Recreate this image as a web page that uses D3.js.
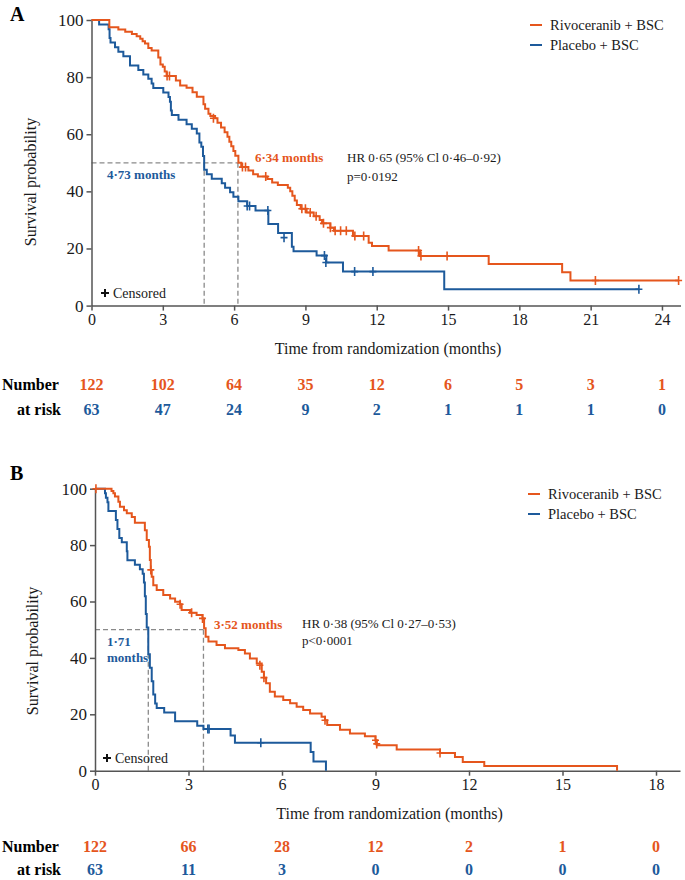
<!DOCTYPE html>
<html>
<head>
<meta charset="utf-8">
<script src="https://cdn.jsdelivr.net/npm/d3@7"></script>
<style>
  body { margin: 0; background: #fff; }
  svg { display: block; }
  text { font-family: "Liberation Serif", "Times New Roman", serif; }
</style>
</head>
<body>
<div id="chart"></div>
<script>
// ---- data ----
// steps: [month, survival % after the drop]
const rivoA = [[0,100],[0.75,97.5],[1.13,96.7],[1.42,95.9],[1.7,95.1],[1.9,94.3],[2.05,93.4],[2.15,92.6],[2.25,91.8],
  [2.39,90.2],[2.53,89.3],[2.81,86.9],[2.9,84.4],[3.0,83.6],[3.08,82],[3.16,80.4],[3.55,78.8],[3.73,77.1],[4.0,76.3],
  [4.25,74.7],[4.43,73.1],[4.71,70.5],[4.78,68.9],[4.92,67.2],[5.0,66.4],[5.2,65.6],[5.3,64],[5.45,62.4],[5.6,60.7],
  [5.72,59.1],[5.8,57.4],[5.88,55.8],[5.97,54.1],[6.05,52.5],[6.18,50],[6.3,48.5],[6.6,47.3],[6.8,46],[7.0,45.2],
  [7.4,44.3],[7.6,43.1],[7.84,42.2],[8.26,41.3],[8.36,40],[8.45,38.5],[8.55,36.8],[8.64,35.2],[8.8,33.9],[9.05,32.6],
  [9.35,31.3],[9.6,30],[9.7,28.8],[10.05,27.3],[10.2,26.2],[11.0,24.4],[11.66,22],[11.8,20.9],[12.5,19.3],[13.82,17.4],
  [16.71,14.6],[19.8,11.7],[20.15,8.8],[24.7,8.8]];
const rivoACensored = [[3.18,80.4],[3.28,80.4],[5.13,65.6],[6.35,48.5],[6.48,48.5],[7.33,45.2],[8.85,33.9],[9.0,33.9],
  [9.2,32.6],[9.45,31.3],[9.76,28.8],[10.05,27.3],[10.25,26.2],[10.48,26.2],[10.72,26.2],[11.08,24.4],[11.45,24.4],
  [13.76,19.3],[13.86,17.4],[14.96,17.4],[21.2,8.8],[24.7,8.8]];

const placeboA = [[0,100],[0.32,98.4],[0.72,96.8],[0.76,93.7],[0.8,92.1],[0.99,90.5],[1.13,88.9],[1.34,87.3],[1.62,84.1],
  [1.97,82.5],[2.18,80.9],[2.39,79.4],[2.53,77.8],[2.6,76.2],[3.02,74.6],[3.24,73],[3.3,71.4],[3.34,68.3],[3.38,66.7],
  [3.66,65.1],[4.0,63.5],[4.22,61.9],[4.43,60.3],[4.54,57.1],[4.62,55.6],[4.69,52.4],[4.74,47.6],[4.85,46],[5.06,44.4],
  [5.48,42.8],[5.62,41.3],[5.83,39.7],[5.97,38.1],[6.18,36.5],[6.55,34.9],[6.9,33.3],[7.44,28.6],[7.85,25.4],
  [8.43,20.6],[8.5,19],[9.47,17.5],[9.88,15.1],[10.58,11.9],[14.84,5.7],[23.03,5.7]];
const placeboACensored = [[6.55,34.9],[6.65,34.9],[7.42,33.3],[8.1,23.8],[9.8,17.5],[9.86,15.1],[11.07,11.9],
  [11.84,11.9],[23.03,5.7]];

const rivoB = [[0,100],[0.53,99.2],[0.59,98.4],[0.64,97.2],[0.75,95.4],[0.8,93.6],[0.93,92.4],[1.02,91.3],[1.18,90],
  [1.28,87.9],[1.6,85.3],[1.66,81.8],[1.73,79.4],[1.76,74.7],[1.79,71.2],[1.82,68.8],[1.87,65.8],[1.98,64.1],
  [2.19,62.3],[2.41,61.1],[2.57,59.9],[2.73,59],[2.78,57],[3.05,56],[3.26,55.2],[3.45,54],[3.5,50.5],[3.55,47.5],
  [3.64,45.8],[3.9,44.6],[4.17,43.4],[4.6,42.8],[4.81,41.6],[4.97,39.8],[5.19,38],[5.35,35.1],[5.42,33],[5.49,31],
  [5.61,28],[5.77,26.3],[6.04,25.1],[6.26,23.9],[6.47,22.7],[6.68,21.5],[6.9,20.3],[7.27,19.1],[7.38,17.9],
  [7.45,16.2],[7.86,14.5],[8.18,13.2],[8.66,12.2],[9.0,10.8],[9.04,9],[9.68,7.5],[11.07,6.3],[11.55,4.9],
  [11.8,3.1],[12.49,1.7],[16.75,0]];
const rivoBCensored = [[0.03,100],[1.79,71.2],[2.73,59],[3.1,56],[3.45,54],[5.29,37.4],[5.42,33],[7.38,17.9],
  [9.0,10.8],[9.04,9.5],[11.07,6.3]];

const placeboB = [[0,100],[0.32,98.4],[0.35,96.8],[0.4,95.2],[0.43,92.1],[0.67,88.9],[0.72,85.7],[0.78,82.5],
  [0.86,81],[1.02,77.8],[1.04,74.6],[1.28,73],[1.44,71.4],[1.53,69.8],[1.57,66.7],[1.6,61.9],[1.63,55.6],
  [1.66,50.8],[1.71,41.3],[1.76,36.5],[1.82,31.7],[1.87,27],[1.93,23.8],[1.98,22.2],[2.22,20.6],[2.57,17.5],
  [3.28,15.9],[3.48,14.8],[4.35,12.5],[4.49,9.9],[6.92,6.6],[7.01,3.3],[7.41,0]];
const placeboBCensored = [[3.62,14.8],[3.66,14.8],[5.32,9.9]];

// where the dashed median lines sit in the picture
const mediansA = [4.74, 6.16];
const mediansB = [1.71, 3.48];

const ticksA = [0, 3, 6, 9, 12, 15, 18, 21, 24];
const ticksB = [0, 3, 6, 9, 12, 15, 18];
const yTicks = [0, 20, 40, 60, 80, 100];

const riskRivoA = [122, 102, 64, 35, 12, 6, 5, 3, 1];
const riskPlaceboA = [63, 47, 24, 9, 2, 1, 1, 1, 0];
const riskRivoB = [122, 66, 28, 12, 2, 1, 0];
const riskPlaceboB = [63, 11, 3, 0, 0, 0, 0];

const orange = "#E5561D", blue = "#1D5A9B";
const axisColor = "#555", font = "'Liberation Serif', 'Times New Roman', serif";

const svg = d3.select("#chart").append("svg")
  .attr("width", 685)
  .attr("height", 880);

function drawPanel(p) {
  const x = d3.scaleLinear().domain([0, p.xMax]).range([p.left, p.right]);
  const y = d3.scaleLinear().domain([0, 100]).range([p.bottom, p.top]);
  const g = svg.append("g");

  // dashed median guides
  g.append("line")
    .attr("x1", x(0)).attr("x2", x(d3.max(p.medians)))
    .attr("y1", y(50)).attr("y2", y(50))
    .attr("stroke", "#8a8a8a").attr("stroke-width", 1.3).attr("stroke-dasharray", "5,3");
  g.selectAll(".med").data(p.medians).enter().append("line")
    .attr("x1", d => x(d)).attr("x2", d => x(d))
    .attr("y1", y(50)).attr("y2", y(0))
    .attr("stroke", "#8a8a8a").attr("stroke-width", 1.3).attr("stroke-dasharray", "5,3");

  // axes
  const xAxis = g.append("g")
    .attr("transform", `translate(0,${p.bottom})`)
    .call(d3.axisBottom(x).tickValues(p.xTicks).tickSize(5).tickSizeOuter(0).tickPadding(3));
  const yAxis = g.append("g")
    .attr("transform", `translate(${p.left},0)`)
    .call(d3.axisLeft(y).tickValues(yTicks).tickSize(5).tickSizeOuter(0).tickPadding(3));
  [xAxis, yAxis].forEach(a => {
    a.attr("font-family", font).attr("font-size", 16);
    a.select(".domain").attr("stroke", axisColor).attr("stroke-width", 1.5);
    a.selectAll(".tick line").attr("stroke", axisColor).attr("stroke-width", 1.5);
    a.selectAll(".tick text").attr("fill", "#1a1a1a");
  });
  yAxis.selectAll(".tick text").attr("font-size", 17);

  // survival curves
  const line = d3.line()
    .x(d => x(d[0]))
    .y(d => y(d[1]))
    .curve(d3.curveStepAfter);

  [[p.placebo, p.placeboCens, blue], [p.rivo, p.rivoCens, orange]].forEach(([steps, cens, c]) => {
    g.append("path")
      .datum(steps)
      .attr("d", line)
      .attr("fill", "none")
      .attr("stroke", c)
      .attr("stroke-width", 2);
    g.selectAll(null).data(cens).enter().append("path")
      .attr("d", d => `M${x(d[0])},${y(d[1]) - 4.5}v9M${x(d[0]) - 3.5},${y(d[1])}h7`)
      .attr("stroke", c)
      .attr("stroke-width", 1.6)
      .attr("fill", "none");
  });

  // titles
  g.append("text")
    .attr("x", (x(0) + x(p.xMax)) / 2 + 2)
    .attr("y", p.bottom + 48)
    .attr("text-anchor", "middle")
    .attr("font-size", 16)
    .attr("fill", "#1a1a1a")
    .text("Time from randomization (months)");

  g.append("text")
    .attr("transform", `translate(${p.yTitleX},${p.yTitleY}) rotate(-90)`)
    .attr("text-anchor", "middle")
    .attr("font-size", 16)
    .attr("fill", "#1a1a1a")
    .text("Survival probability");

  g.append("text")
    .attr("x", 10).attr("y", p.letterY)
    .attr("font-size", 20).attr("font-weight", "bold")
    .text(p.letter);

  // legend
  const legend = g.selectAll(".legend")
    .data([["Rivoceranib + BSC", orange], ["Placebo + BSC", blue]])
    .enter().append("g")
    .attr("transform", (d, i) => `translate(${p.legendX},${p.legendY + i * 20})`);
  legend.append("line")
    .attr("x1", 0).attr("x2", 12)
    .attr("stroke", d => d[1]).attr("stroke-width", 2);
  legend.append("text")
    .attr("x", 20).attr("y", 5)
    .attr("font-size", 14.5).attr("fill", "#1a1a1a")
    .text(d => d[0]);

  // censored key
  g.append("path")
    .attr("d", `M${p.censX},${p.censY - 4}v8M${p.censX - 4},${p.censY}h8`)
    .attr("stroke", "#111").attr("stroke-width", 2);
  g.append("text")
    .attr("x", p.censX + 8).attr("y", p.censY + 5)
    .attr("font-size", 14).attr("fill", "#1a1a1a")
    .text("Censored");

  // number at risk
  g.append("text")
    .attr("x", 2).attr("y", p.riskY)
    .attr("font-size", 16).attr("font-weight", "bold")
    .text("Number");
  g.append("text")
    .attr("x", 61).attr("y", p.riskY + p.riskGap)
    .attr("text-anchor", "end")
    .attr("font-size", 16).attr("font-weight", "bold")
    .text("at risk");
  [[p.riskRivo, orange, 0], [p.riskPlacebo, blue, p.riskGap]].forEach(([vals, c, dy]) => {
    g.selectAll(null).data(vals).enter().append("text")
      .attr("x", (d, i) => x(p.xTicks[i]))
      .attr("y", p.riskY + dy)
      .attr("text-anchor", "middle")
      .attr("font-size", 16).attr("font-weight", "bold")
      .attr("fill", c)
      .text(d => d);
  });

  return { x, y, g };
}

// Panel A
const A = drawPanel({
  letter: "A", letterY: 21,
  left: 91.5, right: 680.5, top: 20, bottom: 305.6, xMax: 24.78,
  xTicks: ticksA, medians: mediansA,
  rivo: rivoA, rivoCens: rivoACensored, placebo: placeboA, placeboCens: placeboACensored,
  yTitleX: 36, yTitleY: 182,
  legendX: 530, legendY: 25,
  censX: 105, censY: 293,
  riskRivo: riskRivoA, riskPlacebo: riskPlaceboA, riskY: 390, riskGap: 25
});
A.g.append("text").attr("x", 255).attr("y", 162).attr("font-size", 13).attr("font-weight", "bold")
  .attr("fill", orange).text("6·34 months");
A.g.append("text").attr("x", 107).attr("y", 179).attr("font-size", 13).attr("font-weight", "bold")
  .attr("fill", blue).text("4·73 months");
A.g.append("text").attr("x", 347).attr("y", 162).attr("font-size", 13).attr("fill", "#1a1a1a")
  .text("HR 0·65 (95% Cl 0·46–0·92)");
A.g.append("text").attr("x", 347).attr("y", 181).attr("font-size", 13).attr("fill", "#1a1a1a")
  .text("p=0·0192");

// Panel B
const B = drawPanel({
  letter: "B", letterY: 480,
  left: 95, right: 680, top: 488.7, bottom: 770.7, xMax: 18.77,
  xTicks: ticksB, medians: mediansB,
  rivo: rivoB, rivoCens: rivoBCensored, placebo: placeboB, placeboCens: placeboBCensored,
  yTitleX: 38, yTitleY: 651,
  legendX: 528, legendY: 494,
  censX: 107, censY: 758,
  riskRivo: riskRivoB, riskPlacebo: riskPlaceboB, riskY: 852, riskGap: 23
});
B.g.append("text").attr("x", 214).attr("y", 629).attr("font-size", 13).attr("font-weight", "bold")
  .attr("fill", orange).text("3·52 months");
B.g.append("text").attr("x", 107).attr("y", 646).attr("font-size", 13).attr("font-weight", "bold")
  .attr("fill", blue).text("1·71");
B.g.append("text").attr("x", 107).attr("y", 662).attr("font-size", 13).attr("font-weight", "bold")
  .attr("fill", blue).text("months");
B.g.append("text").attr("x", 302).attr("y", 628).attr("font-size", 13).attr("fill", "#1a1a1a")
  .text("HR 0·38 (95% Cl 0·27–0·53)");
B.g.append("text").attr("x", 302).attr("y", 645).attr("font-size", 13).attr("fill", "#1a1a1a")
  .text("p<0·0001");
</script>
</body>
</html>
